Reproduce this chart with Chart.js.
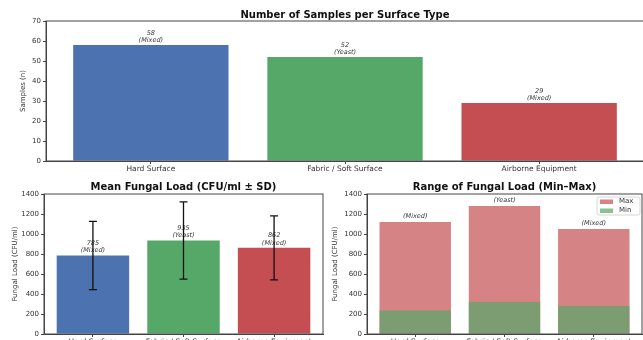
<!DOCTYPE html>
<html>
<head>
<meta charset="utf-8">
<script src="https://cdn.jsdelivr.net/npm/chart.js@4.4.1/dist/chart.umd.min.js"></script>
<style>
  html, body { margin: 0; padding: 0; background: #fff; overflow: hidden; width: 643px; height: 340px; }
  canvas { position: absolute; }
</style>
</head>
<body>
<canvas id="samples-chart" width="650" height="180" style="left:0;top:0"></canvas>
<canvas id="mean-chart" width="330" height="185" style="left:0;top:175px"></canvas>
<canvas id="range-chart" width="330" height="185" style="left:325px;top:175px"></canvas>
<script>
// data
const CATEGORIES = ["Hard Surface", "Fabric / Soft Surface", "Airborne Equipment"];
const DOMINANT = ["Mixed", "Yeast", "Mixed"];
const SAMPLE_COUNTS = [58, 52, 29];
const MEAN_LOAD = [785, 935, 862];
const SD_LOAD = [342, 387, 320];
const MIN_LOAD = [235, 320, 280];
const MAX_LOAD = [1120, 1280, 1050];

const COLORS = { blue: "#4C72B0", green: "#55A868", red: "#C44E52" };
const FONT = "DejaVu Sans";
const AXIS_COLOR = "#444";

Chart.defaults.font.family = FONT;
Chart.defaults.color = "#333";
Chart.defaults.animation = false;

const toPoints = (arr) => arr.map((y, x) => ({ x, y }));

function xAxis(height) {
  return {
    type: "linear",
    offset: false,
    min: -0.54,
    max: 2.54,
    afterBuildTicks: (s) => { s.ticks = CATEGORIES.map((_, i) => ({ value: i })); },
    afterFit: (s) => { s.height = height; },
    ticks: { callback: (v) => CATEGORIES[v], font: { size: 7.5 }, padding: 1, autoSkip: false, maxRotation: 0 },
    grid: { offset: false, drawOnChartArea: false, tickLength: 3, color: AXIS_COLOR },
    border: { color: AXIS_COLOR },
  };
}

function yAxis(width, max, step, label, titlePad) {
  return {
    min: 0,
    max: max,
    afterFit: (s) => { s.width = width; },
    ticks: { stepSize: step, callback: (v) => String(v), font: { size: 7 }, padding: 2 },
    grid: { drawOnChartArea: false, tickLength: 3, color: AXIS_COLOR },
    border: { color: AXIS_COLOR },
    title: { display: true, text: label, font: { size: 7 }, padding: { top: titlePad, bottom: 0 } },
  };
}

//plugins
// title centred over the plot box, like matplotlib's ax.set_title
function plotTitle(text, y) {
  return {
    id: "plotTitle",
    afterDraw(chart) {
      const { ctx, chartArea: a } = chart;
      ctx.save();
      ctx.font = "bold 10px " + FONT;
      ctx.fillStyle = "#111";
      ctx.textAlign = "center";
      ctx.textBaseline = "middle";
      ctx.fillText(text, (a.left + a.right) / 2, y);
      ctx.restore();
    },
  };
}

const framePlugin = {
  id: "frame",
  afterDraw(chart) {
    const { ctx, chartArea: a } = chart;
    ctx.save();
    ctx.strokeStyle = AXIS_COLOR;
    ctx.lineWidth = 1;
    ctx.strokeRect(a.left, a.top, a.right - a.left, a.bottom - a.top);
    ctx.restore();
  },
};

function barNotes(datasetIndex, linesFor, gap) {
  return {
    id: "notes" + datasetIndex,
    afterDatasetsDraw(chart) {
      const ctx = chart.ctx;
      const meta = chart.getDatasetMeta(datasetIndex);
      ctx.save();
      ctx.font = "italic 6.5px " + FONT;
      ctx.fillStyle = "#333";
      ctx.textAlign = "center";
      ctx.textBaseline = "bottom";
      meta.data.forEach((bar, i) => {
        const lines = linesFor(i).slice().reverse();
        lines.forEach((t, k) => ctx.fillText(t, bar.x, bar.y - gap - k * 7.5));
      });
      ctx.restore();
    },
  };
}

const errorBars = {
  id: "errorBars",
  afterDatasetsDraw(chart) {
    const ctx = chart.ctx;
    const y = chart.scales.y;
    const meta = chart.getDatasetMeta(0);
    ctx.save();
    ctx.strokeStyle = "#111";
    ctx.lineWidth = 1.3;
    meta.data.forEach((bar, i) => {
      const top = y.getPixelForValue(MEAN_LOAD[i] + SD_LOAD[i]);
      const bot = y.getPixelForValue(MEAN_LOAD[i] - SD_LOAD[i]);
      ctx.beginPath();
      ctx.moveTo(bar.x, top); ctx.lineTo(bar.x, bot);
      ctx.moveTo(bar.x - 4, top); ctx.lineTo(bar.x + 4, top);
      ctx.moveTo(bar.x - 4, bot); ctx.lineTo(bar.x + 4, bot);
      ctx.stroke();
    });
    ctx.restore();
  },
};

const rangeLegend = {
  id: "rangeLegend",
  afterDraw(chart) {
    const ctx = chart.ctx;
    const a = chart.chartArea;
    const x = a.right - 45, y = a.top + 3;
    ctx.save();
    ctx.fillStyle = "rgba(255,255,255,0.8)";
    ctx.strokeStyle = "#ccc";
    ctx.lineWidth = 0.8;
    ctx.beginPath();
    ctx.roundRect(x, y, 43, 18, 2);
    ctx.fill();
    ctx.stroke();
    const items = [["Max", "rgba(196,78,82,0.7)"], ["Min", "rgba(85,168,104,0.7)"]];
    ctx.font = "7px " + FONT;
    ctx.textBaseline = "middle";
    items.forEach(([label, color], k) => {
      const cy = y + 4.5 + k * 9;
      ctx.fillStyle = color;
      ctx.fillRect(x + 3, cy - 2, 13, 4.5);
      ctx.fillStyle = "#333";
      ctx.fillText(label, x + 22, cy);
    });
    ctx.restore();
  },
};

const noChrome = { legend: { display: false }, tooltip: { enabled: false }, title: { display: false } };

//Number of samples
new Chart(document.getElementById("samples-chart"), {
  type: "bar",
  data: {
    datasets: [{
      data: toPoints(SAMPLE_COUNTS),
      backgroundColor: [COLORS.blue, COLORS.green, COLORS.red],
      categoryPercentage: 1,
      barPercentage: 0.8,
    }],
  },
  options: {
    responsive: false,
    layout: { padding: { top: 21, right: 6 } },
    scales: { x: xAxis(19), y: yAxis(46, 70, 10, "Samples (n)", 18.5) },
    plugins: noChrome,
  },
  plugins: [
    framePlugin,
    barNotes(0, (i) => [String(SAMPLE_COUNTS[i]), "(" + DOMINANT[i] + ")"], 1),
    plotTitle("Number of Samples per Surface Type", 15),
  ],
});

//Mean fungal load
new Chart(document.getElementById("mean-chart"), {
  type: "bar",
  data: {
    datasets: [{
      data: toPoints(MEAN_LOAD),
      backgroundColor: [COLORS.blue, COLORS.green, COLORS.red],
      categoryPercentage: 1,
      barPercentage: 0.8,
    }],
  },
  options: {
    responsive: false,
    layout: { padding: { top: 19, right: 7 } },
    scales: { x: xAxis(26), y: yAxis(44, 1400, 200, "Fungal Load (CFU/ml)", 10.8) },
    plugins: noChrome,
  },
  plugins: [
    framePlugin,
    barNotes(0, (i) => [String(MEAN_LOAD[i]), "(" + DOMINANT[i] + ")"], 1.5),
    errorBars,
    plotTitle("Mean Fungal Load (CFU/ml \u00b1 SD)", 12),
  ],
});

//Range min-max
new Chart(document.getElementById("range-chart"), {
  type: "bar",
  data: {
    datasets: [
      {
        label: "Max",
        data: toPoints(MAX_LOAD),
        backgroundColor: "rgba(196,78,82,0.7)",
        categoryPercentage: 1,
        barPercentage: 0.8,
        grouped: false,
        order: 1,
      },
      {
        label: "Min",
        data: toPoints(MIN_LOAD),
        backgroundColor: "rgba(85,168,104,0.7)",
        categoryPercentage: 1,
        barPercentage: 0.8,
        grouped: false,
        order: 0,
      },
    ],
  },
  options: {
    responsive: false,
    layout: { padding: { top: 19, right: 13 } },
    scales: { x: xAxis(26), y: yAxis(42, 1400, 200, "Fungal Load (CFU/ml)", 5.8) },
    plugins: noChrome,
  },
  plugins: [
    framePlugin,
    barNotes(0, (i) => ["(" + DOMINANT[i] + ")"], 2.5),
    rangeLegend,
    plotTitle("Range of Fungal Load (Min\u2013Max)", 12),
  ],
});
</script>
</body>
</html>
